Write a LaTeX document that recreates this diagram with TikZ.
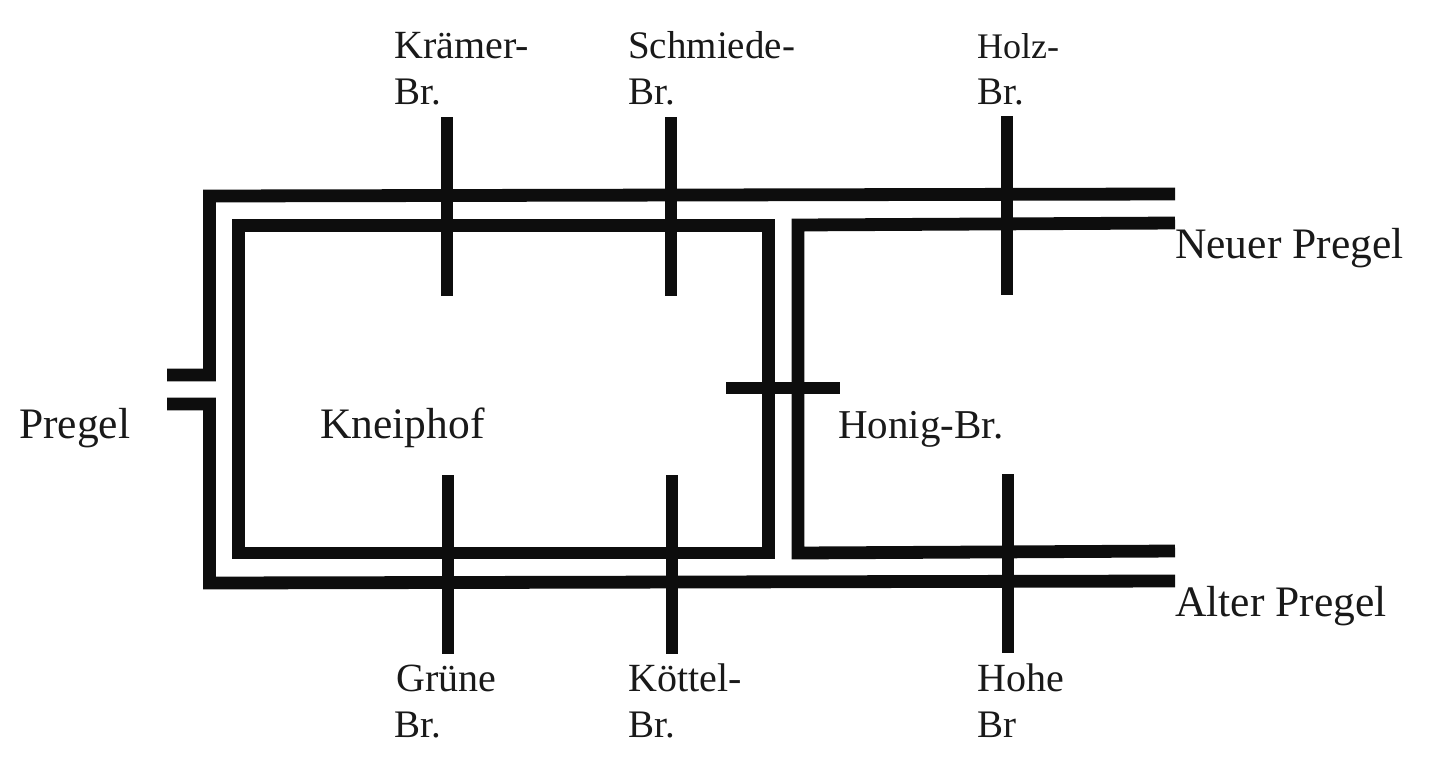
\documentclass[tikz,border=0pt]{standalone}
\usepackage{fontspec}
\setmainfont{Liberation Serif}
\begin{document}
\begin{tikzpicture}[x=1pt,y=-1pt,
 wall/.style={line width=12.8pt,color=black!95,line cap=butt,line join=miter},
 lbl/.style={font=\fontsize{40}{46}\selectfont,color=black!90,inner sep=0pt,anchor=base west,align=left},
 lblbig/.style={lbl,font=\fontsize{43.5}{50}\selectfont},
 lblmid/.style={lbl,font=\fontsize{41}{46}\selectfont},
 lblsmall/.style={lbl,font=\fontsize{39}{46}\selectfont},
 lblholz/.style={lbl,font=\fontsize{36}{46}\selectfont}]
\useasboundingbox (0,0) rectangle (1442,772);
\coordinate (o1) at (1175,194); \coordinate (o2) at (209.5,196); \coordinate (o3) at (209.5,375); \coordinate (o4) at (167,375);
\coordinate (p1) at (167,404); \coordinate (p2) at (209.5,404); \coordinate (p3) at (209.5,583); \coordinate (p4) at (1175,581);
\coordinate (k1) at (238.5,225.5); \coordinate (k2) at (768.5,225.5); \coordinate (k3) at (768.5,553); \coordinate (k4) at (238.5,553);
\coordinate (h1) at (1175,223); \coordinate (h2) at (798,225); \coordinate (h3) at (798,553); \coordinate (h4) at (1175,551);
\draw[wall] (o1)--(o2)--(o3)--(o4);
\draw[wall] (p1)--(p2)--(p3)--(p4);
\draw[wall] (k1)--(k2)--(k3)--(k4)--cycle;
\draw[wall] (h1)--(h2)--(h3)--(h4);
\foreach \n/\x/\a/\b in {kr/447/117/296,sc/671/117/296,ho/1007/116/295,gr/448/475/654,ko/672/475/654,hh/1008/474/653}{
 \coordinate (\n a) at (\x,\a); \coordinate (\n b) at (\x,\b);
 \draw[wall] (\n a)--(\n b);}
\coordinate (ha) at (726,388); \coordinate (hb) at (840,388);
\draw[wall] (ha)--(hb);
\node[lbl] (t1) at (394,58) {Krämer-};
\node[lblsmall] (t2) at (394,104) {Br.};
\node[lblsmall] (t3) at (628,58) {Schmiede-};
\node[lblsmall] (t4) at (628,104) {Br.};
\node[lblholz] (t5) at (977,58) {Holz-};
\node[lblsmall] (t6) at (977,104) {Br.};
\node[lblbig] (t7) at (1175,258) {Neuer Pregel};
\node[lblbig] (t8) at (19,438.5) {Pregel};
\node[lblbig] (t9) at (320,438.5) {Kneiphof};
\node[lblmid] (t10) at (838,438) {Honig-Br.};
\node[lblbig] (t11) at (1175,616) {Alter Pregel};
\node[lbl] (t12) at (396,691) {Grüne};
\node[lblsmall] (t13) at (394,737) {Br.};
\node[lbl] (t14) at (628,691) {Köttel-};
\node[lblsmall] (t15) at (628,737) {Br.};
\node[lbl] (t16) at (977,691) {Hohe};
\node[lblsmall] (t17) at (977,737) {Br};
\end{tikzpicture}
\end{document}
